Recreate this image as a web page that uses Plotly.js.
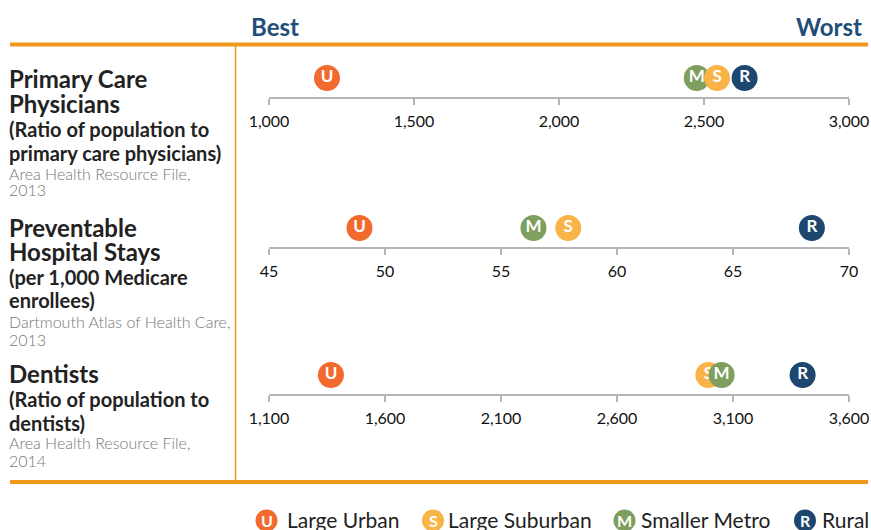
<!DOCTYPE html>
<html>
<head>
<meta charset="utf-8">
<script src="https://cdn.plot.ly/plotly-3.0.1.min.js"></script>
<style>html,body{margin:0;padding:0;background:#fff;}#chart{width:871px;height:530px;}</style>
</head>
<body>
<div id="chart"></div>
<script>
// ---- data ----
const categories = ['Large Urban', 'Large Suburban', 'Smaller Metro', 'Rural'];
const letters = ['U', 'S', 'M', 'R'];
const primaryCare = [1200, 2545, 2475, 2640];
const hospitalStays = [48.9, 57.9, 56.4, 68.4];
const dentists = [1367, 2994, 3051, 3400];
const primaryCareTicks = [1000, 1500, 2000, 2500, 3000];
const hospitalStaysTicks = [45, 50, 55, 60, 65, 70];
const dentistsTicks = [1100, 1600, 2100, 2600, 3100, 3600];

// ---- styles ----
const colors = ['#f26a2e', '#f9b447', '#7e9f5e', '#1e4770'];
const W = 871, H = 530;
const px = v => v / W;
const py = v => 1 - v / H;
const FONT = 'Lato, "Open Sans", sans-serif';
const ORANGE = '#f0981c';

const rows = [
  {values: primaryCare, ticks: primaryCareTicks, axisY: 97},
  {values: hospitalStays, ticks: hospitalStaysTicks, axisY: 247},
  {values: dentists, ticks: dentistsTicks, axisY: 394}
];

const traces = [];
const layout = {
  width: W, height: H,
  margin: {l: 0, r: 0, t: 0, b: 0},
  paper_bgcolor: '#fff', plot_bgcolor: 'rgba(0,0,0,0)',
  showlegend: false,
  font: {family: FONT},
  shapes: [], annotations: []
};

rows.forEach((row, r) => {
  const sfx = r === 0 ? '' : String(r + 1);
  const order = row.values.map((v, i) => i).sort((a, b) => row.values[a] - row.values[b]);
  order.forEach(i => {
    traces.push({
      type: 'scatter', mode: 'markers+text',
      x: [row.values[i]], y: [0],
      xaxis: 'x' + sfx, yaxis: 'y' + sfx,
      text: [letters[i]], name: categories[i],
      textposition: 'middle center',
      textfont: {family: FONT, size: 17, color: '#fff', weight: 700},
      marker: {size: 26, color: colors[i], line: {width: 0}},
      cliponaxis: false, hoverinfo: 'x+name'
    });
  });
  const t = row.ticks;
  layout['xaxis' + sfx] = {
    domain: [px(269), px(849)], anchor: 'y' + sfx,
    range: [t[0], t[t.length - 1]],
    tickvals: t, tickformat: ',',
    showline: true, linecolor: '#b5b5b5', linewidth: 2,
    ticks: 'outside', ticklen: 6, tickwidth: 2, tickcolor: '#b5b5b5',
    ticklabelstandoff: 3,
    showgrid: false, zeroline: false, fixedrange: true,
    tickfont: {family: FONT, size: 16, color: '#111'}
  };
  layout['yaxis' + sfx] = {
    domain: [py(row.axisY), py(row.axisY - 38)], anchor: 'x' + sfx,
    range: [-1, 1], visible: false, fixedrange: true
  };
});

// frame lines
layout.shapes.push(
  {type: 'line', xref: 'paper', yref: 'paper', x0: px(10), x1: px(868), y0: py(44.5), y1: py(44.5), line: {color: ORANGE, width: 4}},
  {type: 'line', xref: 'paper', yref: 'paper', x0: px(10), x1: px(868), y0: py(482), y1: py(482), line: {color: ORANGE, width: 4}},
  {type: 'line', xref: 'paper', yref: 'paper', x0: px(235.5), x1: px(235.5), y0: py(46), y1: py(480), line: {color: ORANGE, width: 1.5}}
);

// header
layout.annotations.push(
  {xref: 'paper', yref: 'paper', x: px(249), y: py(27), xanchor: 'left', yanchor: 'middle', showarrow: false,
   text: 'Best', font: {family: FONT, size: 24, color: '#1f4e79', weight: 700}},
  {xref: 'paper', yref: 'paper', x: px(864), y: py(27), xanchor: 'right', yanchor: 'middle', showarrow: false,
   text: 'Worst', font: {family: FONT, size: 24, color: '#1f4e79', weight: 700}}
);

// left-hand labels
const labelLines = [
  ['Primary Care', 79, 't'], ['Physicians', 103, 't'], ['(Ratio of population to', 129, 's'], ['primary care physicians)', 153, 's'],
  ['Area Health Resource File,', 173, 'c'], ['2013', 190, 'c'],
  ['Preventable', 227, 't'], ['Hospital Stays', 251, 't'], ['(per 1,000 Medicare', 277, 's'], ['enrollees)', 300, 's'],
  ['Dartmouth Atlas of Health Care,', 321, 'c'], ['2013', 339, 'c'],
  ['Dentists', 373, 't'], ['(Ratio of population to', 399, 's'], ['dentists)', 423, 's'],
  ['Area Health Resource File,', 442, 'c'], ['2014', 460, 'c']
];
const lineFonts = {
  t: {family: FONT, size: 24, color: '#222', weight: 700},
  s: {family: FONT, size: 20, color: '#222', weight: 700},
  c: {family: FONT, size: 16, color: '#777', weight: 300}
};
labelLines.forEach(([txt, y, k]) => {
  layout.annotations.push({xref: 'paper', yref: 'paper', x: px(8), y: py(y), xanchor: 'left', yanchor: 'middle',
    showarrow: false, borderpad: 0, text: txt, font: lineFonts[k]});
});

// custom legend
const legendPos = [[266.5, 287], [433, 448], [624.5, 641], [805, 822]];
categories.forEach((c, i) => {
  const [cx, tx] = legendPos[i];
  const cy = 520.5, rr = 11;
  layout.shapes.push({type: 'circle', xref: 'paper', yref: 'paper',
    x0: px(cx - rr), x1: px(cx + rr), y0: py(cy + rr), y1: py(cy - rr),
    fillcolor: colors[i], line: {width: 0}});
  layout.annotations.push(
    {xref: 'paper', yref: 'paper', x: px(cx), y: py(cy), xanchor: 'center', yanchor: 'middle', showarrow: false,
     text: letters[i], font: {family: FONT, size: 16, color: '#fff', weight: 700}},
    {xref: 'paper', yref: 'paper', x: px(tx - 1), y: py(cy - 1), xanchor: 'left', yanchor: 'middle', showarrow: false,
     borderpad: 0, text: c, font: {family: FONT, size: 21, color: '#222'}}
  );
});

Plotly.newPlot('chart', traces, layout, {displayModeBar: false, staticPlot: true});
</script>
</body>
</html>
